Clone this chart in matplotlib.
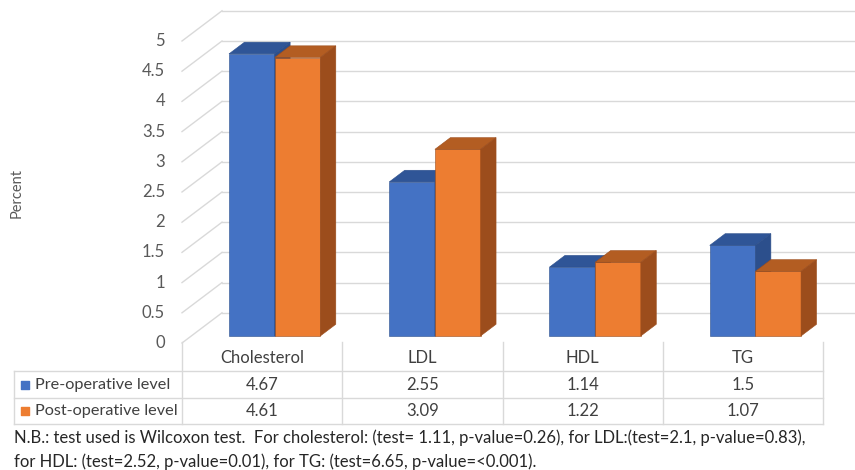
import matplotlib
matplotlib.use('Agg')
import matplotlib.pyplot as plt
from matplotlib.patches import Polygon

# data
categories = ['Cholesterol', 'LDL', 'HDL', 'TG']
pre_op = [4.67, 2.55, 1.14, 1.5]
post_op = [4.61, 3.09, 1.22, 1.07]
series_names = ['Pre-operative level', 'Post-operative level']
yticks = [0, 0.5, 1, 1.5, 2, 2.5, 3, 3.5, 4, 4.5, 5]
note_lines = ['N.B.: test used is Wilcoxon test.  For cholesterol: (test= 1.11, p-value=0.26), for LDL:(test=2.1, p-value=0.83),',
              'for HDL: (test=2.52, p-value=0.01), for TG: (test=6.65, p-value=<0.001).']

plt.rcParams['font.family'] = ['Lato', 'DejaVu Sans']

W, H = 855, 470
fig = plt.figure(figsize=(W / 100, H / 100), dpi=100)

def px_axes(l, t, r, b):
    return fig.add_axes([l / W, 1 - b / H, (r - l) / W, (b - t) / H])

# main chart area, front plane: value 0 at y=343px
scale = 60.4  # px per unit
ax = px_axes(182, 343 - 5.5 * scale, 823, 343)
ax.set_xlim(-0.5, 3.5)
ax.set_ylim(0, 5.5)
ax.axis('off')

px_x = 4 / (823 - 182)   # one pixel in x data units
DX, DY = 40 * px_x, 0.5  # depth offset of the back wall
grid_c = '#d9d9d9'
right_edge = 3.5 + 32 * px_x

# side wall + back wall gridlines
for v in yticks:
    ax.plot([-0.5, -0.5 + DX], [v, v + DY], color=grid_c, lw=1, clip_on=False, zorder=1)
    ax.plot([-0.5 + DX, right_edge], [v + DY, v + DY], color=grid_c, lw=1, clip_on=False, zorder=1)
    ax.text(-0.5 - 17 * px_x, v, f'{v:g}', ha='right', va='center', fontsize=12, color='#595959')

# 3d-ish bars
d0, d1 = 0.233, 0.62
w = 0.285
shift = 0.02
colors = [('#4472c4', '#2f5597', '#2c4f8c'), ('#ed7d31', '#b35d22', '#9c4d1c')]

def box(x_left, h, cols):
    front, top, side = cols
    x0 = x_left + DX * d0
    y0 = DY * d0
    ex, ey = DX * (d1 - d0), DY * (d1 - d0)
    ax.bar(x0, h, width=w, bottom=y0, align='edge', color=front,
           edgecolor=side, linewidth=0.4, zorder=3)
    ax.add_patch(Polygon([(x0, y0 + h), (x0 + w, y0 + h), (x0 + w + ex, y0 + h + ey), (x0 + ex, y0 + h + ey)],
                         closed=True, facecolor=top, edgecolor=side, linewidth=0.4, zorder=3))
    ax.add_patch(Polygon([(x0 + w, y0), (x0 + w + ex, y0 + ey), (x0 + w + ex, y0 + h + ey), (x0 + w, y0 + h)],
                         closed=True, facecolor=side, edgecolor=side, linewidth=0.4, zorder=3))

for i in range(len(categories)):
    box(i + shift - w, pre_op[i], colors[0])
    box(i + shift, post_op[i], colors[1])

# data table under the chart
tax = px_axes(182, 345, 823, 424)
tax.set_xlim(-0.5, 3.5)
tax.set_ylim(3, 0)
tax.axis('off')
leg_left = -0.5 - 168 * px_x
for yy in [1, 2, 3]:
    tax.plot([leg_left, 3.5], [yy, yy], color=grid_c, lw=1, clip_on=False)
for xx in [-0.5, 0.5, 1.5, 2.5, 3.5]:
    tax.plot([xx, xx], [-0.1, 3], color=grid_c, lw=1, clip_on=False)
tax.plot([leg_left, leg_left], [1, 3], color=grid_c, lw=1, clip_on=False)

txt_c = '#404040'
for i, cat in enumerate(categories):
    tax.text(i, 0.5, cat, ha='center', va='center', fontsize=12, color=txt_c)
    tax.text(i, 1.5, f'{pre_op[i]:g}', ha='center', va='center', fontsize=12, color=txt_c)
    tax.text(i, 2.5, f'{post_op[i]:g}', ha='center', va='center', fontsize=12, color=txt_c)

for j, name in enumerate(series_names):
    tax.scatter([leg_left + 11 * px_x], [1.5 + j], marker='s', s=34, color=colors[j][0], clip_on=False)
    tax.text(leg_left + 21 * px_x, 1.5 + j, name, ha='left', va='center', fontsize=11.7, color=txt_c)

fig.text(17 / W, 1 - 193 / H, 'Percent', rotation=90, ha='center', va='center', fontsize=10.5, color='#595959')
fig.text(14 / W, 1 - 438 / H, note_lines[0], ha='left', va='center', fontsize=12, color='#262626')
fig.text(14 / W, 1 - 462 / H, note_lines[1], ha='left', va='center', fontsize=12, color='#262626')

fig.savefig('out.png', dpi=100)
